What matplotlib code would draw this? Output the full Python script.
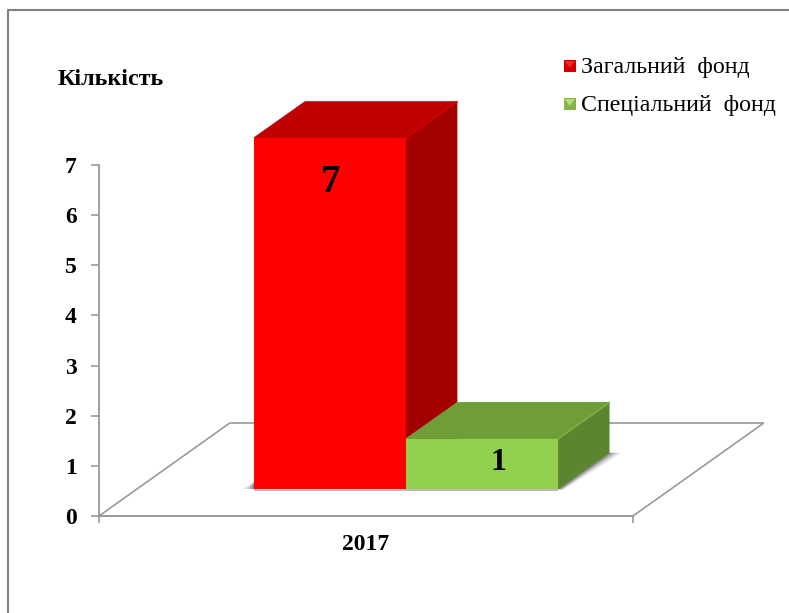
import matplotlib.pyplot as plt
from matplotlib.lines import Line2D
from matplotlib.patches import Polygon, Rectangle

plt.rcParams["font.family"] = ["Liberation Serif", "DejaVu Serif"]

years = ["2017"]
series_names = ["Загальний  фонд", "Спеціальний  фонд"]
values = [7, 1]
value_ticks = [0, 1, 2, 3, 4, 5, 6, 7]
y_title = "Кількість"

front_colors = ["#ff0000", "#92d14f"]
top_colors = ["#c00000", "#6f9e39"]
side_colors = ["#a30000", "#5c852f"]
ridge_colors = ["#d40000", "#7cb040"]
grey = "#999999"

W, H = 789, 613
fig = plt.figure(figsize=(W / 100, H / 100), dpi=100)
# axes box matches the chart's front floor edge and the 0..7 axis
ax = fig.add_axes([99 / W, 1 - 516 / H, 534 / W, 351 / H])
ax.set_xlim(0, 1)
ax.set_ylim(0, 7)

# 3D projection offsets, in data units
floor_dx, floor_dy = 0.245, 1.855
bar_dx, bar_dy = 0.0955, 0.72
base = 0.54
width = 0.2846
centers = [0.4326, 0.7175]

# floor
floor = Polygon(
    [(0, 0), (floor_dx, floor_dy), (1 + floor_dx, floor_dy), (1, 0)],
    closed=True, facecolor="white", edgecolor=grey, lw=1.2, clip_on=False, zorder=1,
)
ax.add_patch(floor)

# soft shadows on the floor
for grow, a in [(0.024, 0.12), (0.017, 0.2), (0.010, 0.3), (0.004, 0.4)]:
    r = centers[1] + width / 2
    ax.add_patch(Polygon(
        [(r, base), (r + bar_dx, base + bar_dy), (r + bar_dx + grow, base + bar_dy),
         (r + grow * 0.4, base - 0.02)],
        closed=True, facecolor="#555555", edgecolor="none", alpha=a, zorder=1.5,
    ))
    l = centers[0] - width / 2
    ax.add_patch(Polygon(
        [(l, base), (l, base + 0.14), (l - grow * 0.9, base)],
        closed=True, facecolor="#555555", edgecolor="none", alpha=a, zorder=1.5,
    ))
ax.plot(
    [centers[0] - width / 2, centers[1] + width / 2], [base - 0.025, base - 0.025],
    color="#bbbbbb", lw=1.5, zorder=1.6, solid_capstyle="butt",
)

# bars: side and top faces first, then the front
for i in range(len(values)):
    x0 = centers[i] - width / 2
    x1 = centers[i] + width / 2
    top = base + values[i]
    ax.add_patch(Polygon(
        [(x1, base), (x1 + bar_dx, base + bar_dy), (x1 + bar_dx, top + bar_dy), (x1, top)],
        closed=True, facecolor=side_colors[i], edgecolor=side_colors[i], lw=0.5,
        clip_on=False, zorder=2 + i,
    ))
    ax.add_patch(Polygon(
        [(x0, top), (x0 + bar_dx, top + bar_dy), (x1 + bar_dx, top + bar_dy), (x1, top)],
        closed=True, facecolor=top_colors[i], edgecolor=top_colors[i], lw=0.8,
        clip_on=False, zorder=2.1 + i,
    ))
    ax.plot([x1, x1 + bar_dx], [top, top + bar_dy], color=ridge_colors[i], lw=1.2,
            clip_on=False, zorder=2.2 + i)
    ax.bar(centers[i], values[i], width, bottom=base, color=front_colors[i], zorder=2.5 + i,
           clip_on=False)

# value labels
ax.text(centers[0], 6.66, str(values[0]), ha="center", va="center", fontsize=28,
        fontweight="bold", color="black", zorder=6)
ax.text(0.748, 1.07, str(values[1]), ha="center", va="center", fontsize=23,
        fontweight="bold", color="black", zorder=6)

# axes
for side in ["top", "right"]:
    ax.spines[side].set_visible(False)
for side in ["left", "bottom"]:
    ax.spines[side].set_color(grey)
    ax.spines[side].set_linewidth(1.3)
    ax.spines[side].set_zorder(1.8)
ax.set_yticks(value_ticks)
ax.set_yticklabels([str(v) for v in value_ticks], fontsize=17, fontweight="bold")
ax.tick_params(axis="y", length=6, width=1.2, color=grey, pad=10)
ax.set_xticks([0.5])
ax.set_xticklabels(years, fontsize=17, fontweight="bold")
ax.tick_params(axis="x", which="major", length=0, pad=13)
ax.set_xticks([0, 1], minor=True)
ax.tick_params(axis="x", which="minor", length=5, width=1.2, color=grey)

fig.text(58 / W, 1 - 79.5 / H, y_title, fontsize=17.3, fontweight="bold", ha="left", va="center")

# legend
legend_text_y = [67.5, 105.5]
legend_mark_y = [66, 104]
light_colors = ["#ff2020", "#b0e070"]
edge_colors = ["#cc0000", "#86b24c"]
for i in range(len(series_names)):
    y = legend_mark_y[i]
    fig.add_artist(Rectangle(
        (563.5 / W, 1 - (y + 6) / H), 12.5 / W, 12 / H, transform=fig.transFigure,
        facecolor=edge_colors[i], edgecolor="none",
    ))
    fig.add_artist(Polygon(
        [(564.5 / W, 1 - (y - 5) / H), (575 / W, 1 - (y - 5) / H), (569.7 / W, 1 - (y + 2) / H)],
        closed=True, transform=fig.transFigure, facecolor=light_colors[i], edgecolor="none",
    ))
    fig.text(581 / W, 1 - legend_text_y[i] / H, series_names[i], fontsize=17.2, ha="left", va="center")

# outer frame, only top and left edges are in view
fig.add_artist(Line2D([8 / W, 8 / W, 1], [0, 1 - 10 / H, 1 - 10 / H],
                      transform=fig.transFigure, color="#808080", lw=1.5))

fig.savefig("out.png", dpi=100)
